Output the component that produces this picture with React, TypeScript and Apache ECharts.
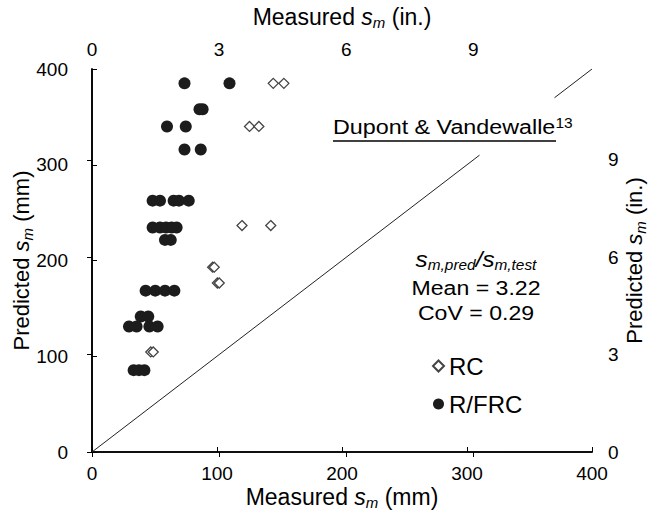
import React, { useEffect, useRef } from "react";
import * as echarts from "echarts";

// Measured s_m (mm) / Predicted s_m (mm)
const rcMeasured = [145, 153.5, 126, 133.5, 120, 143, 96.5, 97.8, 100.3, 101.8, 47, 49];
const rcPredicted = [385, 385, 340, 340, 236.5, 236.5, 193, 193, 176.5, 176.5, 104.5, 104.5];

const frcMeasured = [
  74, 110,
  86, 88.5,
  60, 75,
  74, 87,
  48.5, 54.4, 65.3, 69.6, 77.4,
  48.5, 54.4, 59.2, 63.7, 67.7,
  58.4, 63,
  42.9, 50.6, 58.4, 65.9,
  39, 45,
  29.6, 35.7, 45.9, 52.5,
  33.3, 37.6, 41.9,
];
const frcPredicted = [
  385, 385,
  358, 358,
  340, 340,
  316, 316,
  262.5, 262.5, 262.5, 262.5, 262.5,
  234.5, 234.5, 234.5, 234.5, 234.5,
  221.5, 221.5,
  168.5, 168.5, 168.5, 168.5,
  141.5, 141.5,
  131, 131, 131, 131,
  85.5, 85.5, 85.5,
];

// 1:1 line (interrupted by the label box)
const lineLowX = [0, 310];
const lineHighX = [370, 400];

const mmTicks = { min: 0, max: 400, interval: 100 };
const inTicks = { min: 0, max: 11.8, interval: 3 };

const seriesNames = ["RC", "R/FRC"];
const statsLines = ["Mean = 3.22", "CoV = 0.29"];
const sourceLabel = "Dupont & Vandewalle";
const sourceRef = "13";

const FONT = "'Liberation Sans', Arial, sans-serif";

const makeRich = (size: number) => ({
  i: { fontStyle: "italic", fontSize: size, fontFamily: FONT, color: "#000", lineHeight: size + 2 },
  sub: {
    fontStyle: "italic",
    fontSize: 15,
    fontFamily: FONT,
    color: "#000",
    verticalAlign: "top",
    lineHeight: 15,
    padding: [11, 0, 0, 0],
  },
});

const axisLine = { show: true, lineStyle: { color: "#000", width: 1.6 } };
const axisTick = { show: true, inside: true, length: 5, lineStyle: { color: "#000", width: 1 } };
const labelStyle = { color: "#000", fontSize: 19, fontFamily: FONT };
const hNameStyle = { color: "#000", fontSize: 23, fontFamily: FONT, rich: makeRich(23) };
const vNameStyle = { color: "#000", fontSize: 22, fontFamily: FONT, rich: makeRich(22) };

export default function App() {
  const ref = useRef<HTMLDivElement>(null);
  useEffect(() => {
    if (!ref.current) return;
    const chart = echarts.init(ref.current, null, { renderer: "svg" });
    const zip = (xs: number[], ys: number[]) => xs.map((x, i) => [x, ys[i]]);
    chart.setOption({
      animation: false,
      backgroundColor: "#fff",
      grid: { left: 92, right: 57, top: 69, bottom: 64, containLabel: false, outerBoundsMode: "none" },
      legend: {
        data: seriesNames,
        orient: "vertical",
        left: 432,
        top: 354,
        itemGap: 14,
        itemWidth: 11,
        itemHeight: 11,
        padding: 0,
        textStyle: { color: "#000", fontSize: 24, fontFamily: FONT },
      },
      xAxis: [
        {
          type: "value",
          position: "bottom",
          ...mmTicks,
          axisLine,
          axisTick,
          splitLine: { show: false },
          axisLabel: { ...labelStyle, margin: 12 },
          name: "Measured {i|s}{sub|m} (mm)",
          nameLocation: "middle",
          nameGap: 32,
          nameMoveOverlap: false,
          nameTextStyle: hNameStyle,
        },
        {
          type: "value",
          position: "top",
          ...inTicks,
          axisLine,
          axisTick,
          splitLine: { show: false },
          axisLabel: { ...labelStyle, margin: 10, showMaxLabel: false },
          name: "Measured {i|s}{sub|m} (in.)",
          nameLocation: "middle",
          nameGap: 40,
          nameMoveOverlap: false,
          nameTextStyle: hNameStyle,
        },
      ],
      yAxis: [
        {
          type: "value",
          position: "left",
          ...mmTicks,
          axisLine,
          axisTick,
          splitLine: { show: false },
          axisLabel: { ...labelStyle, margin: 24 },
          name: "Predicted {i|s}{sub|m} (mm)",
          nameLocation: "middle",
          nameRotate: 90,
          nameGap: 59,
          nameMoveOverlap: false,
          nameTextStyle: vNameStyle,
        },
        {
          type: "value",
          position: "right",
          ...inTicks,
          axisLine,
          axisTick,
          splitLine: { show: false },
          axisLabel: { ...labelStyle, margin: 16, showMaxLabel: false },
          name: "Predicted {i|s}{sub|m} (in.)",
          nameLocation: "middle",
          nameRotate: 90,
          nameGap: 30,
          nameMoveOverlap: false,
          nameTextStyle: vNameStyle,
        },
      ],
      series: [
        {
          type: "line",
          xAxisIndex: 0,
          yAxisIndex: 0,
          data: zip(lineLowX, lineLowX),
          symbol: "none",
          lineStyle: { color: "#222", width: 1 },
          silent: true,
          z: 1,
        },
        {
          type: "line",
          xAxisIndex: 0,
          yAxisIndex: 0,
          data: zip(lineHighX, lineHighX),
          symbol: "none",
          lineStyle: { color: "#222", width: 1 },
          silent: true,
          z: 1,
        },
        {
          name: seriesNames[0],
          type: "scatter",
          xAxisIndex: 0,
          yAxisIndex: 0,
          symbol: "diamond",
          symbolSize: 10,
          data: zip(rcMeasured, rcPredicted),
          itemStyle: { color: "#fff", borderColor: "#444", borderWidth: 1.3, opacity: 1 },
          z: 3,
        },
        {
          name: seriesNames[1],
          type: "scatter",
          xAxisIndex: 0,
          yAxisIndex: 0,
          symbol: "circle",
          symbolSize: 12,
          data: zip(frcMeasured, frcPredicted),
          itemStyle: { color: "#1c1c1c", opacity: 1 },
          z: 4,
        },
      ],
      graphic: [
        {
          type: "text",
          x: 333,
          y: 116,
          scaleX: 1.11,
          z: 10,
          style: {
            text: `${sourceLabel}{sup|${sourceRef}}`,
            fill: "#000",
            font: `21px ${FONT}`,
            verticalAlign: "top",
            rich: {
              sup: { fontSize: 14, fontFamily: FONT, fill: "#000", verticalAlign: "top", lineHeight: 14, padding: [0, 0, 8, 0] },
            },
          },
        },
        {
          type: "line",
          z: 10,
          shape: { x1: 333, y1: 141, x2: 556, y2: 141 },
          style: { stroke: "#000", lineWidth: 1.4 },
        },
        {
          type: "text",
          x: 476,
          y: 259,
          scaleX: 1.1,
          z: 10,
          style: {
            text: "{i|s}{sub|m,pred}{i|/s}{sub|m,test}",
            fill: "#000",
            align: "center",
            verticalAlign: "middle",
            font: `21px ${FONT}`,
            rich: {
              i: { fontStyle: "italic", fontSize: 22, fontFamily: FONT, fill: "#000", lineHeight: 22 },
              sub: { fontStyle: "italic", fontSize: 14, fontFamily: FONT, fill: "#000", verticalAlign: "top", lineHeight: 14, padding: [10, 0, 0, 0] },
            },
          },
        },
        {
          type: "text",
          x: 476,
          y: 288,
          scaleX: 1.1,
          z: 10,
          style: { text: statsLines[0], fill: "#000", align: "center", verticalAlign: "middle", font: `21px ${FONT}` },
        },
        {
          type: "text",
          x: 476,
          y: 313,
          scaleX: 1.1,
          z: 10,
          style: { text: statsLines[1], fill: "#000", align: "center", verticalAlign: "middle", font: `21px ${FONT}` },
        },
      ],
    });
    return () => chart.dispose();
  }, []);
  return (
    <div
      ref={ref}
      style={{ position: "absolute", left: 0, top: 0, width: 649, height: 516, background: "#fff" }}
    />
  );
}
